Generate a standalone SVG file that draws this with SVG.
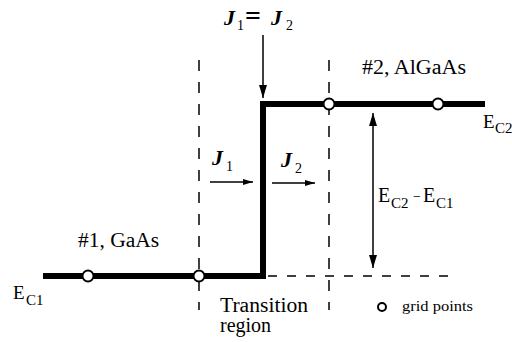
<svg xmlns="http://www.w3.org/2000/svg" width="512" height="342" viewBox="0 0 512 342">
<style>
.band{fill:none;stroke:#000;stroke-width:6;stroke-linejoin:miter;stroke-linecap:butt}
.vdash{fill:none;stroke:#000;stroke-width:1.5;stroke-dasharray:11 11}
.hdash{fill:none;stroke:#000;stroke-width:1.5;stroke-dasharray:9 10}
.arr{fill:none;stroke:#000;stroke-width:1.5}
.pt{fill:#fff;stroke:#000;stroke-width:2}
text{fill:#000}
.sub{font-size:15px}
.jsub{font-size:14px;font-style:normal;font-weight:normal}
</style>
<defs>
<marker id="big" viewBox="0 0 13 8" refX="13" refY="4" markerWidth="13" markerHeight="8" markerUnits="userSpaceOnUse" orient="auto-start-reverse"><path d="M0,0 L13,4 L0,8 Z" fill="#000"/></marker>
<marker id="small" viewBox="0 0 10 6" refX="10" refY="3" markerWidth="10" markerHeight="6" markerUnits="userSpaceOnUse" orient="auto"><path d="M0,0 L10,3 L0,6 Z" fill="#000"/></marker>
</defs>

<g id="guides">
<line class="vdash" x1="199" y1="60" x2="199" y2="310"/>
<line class="vdash" x1="329" y1="60" x2="329" y2="310"/>
<line class="hdash" x1="268" y1="276" x2="449" y2="276"/>
</g>

<g id="band-edge">
<path class="band" d="M43,276 H263 V104 H485"/>
</g>

<g id="connectors">
<line class="arr" x1="263" y1="35" x2="263" y2="98" marker-end="url(#big)"/>
<line class="arr" x1="210" y1="182" x2="253" y2="182" marker-end="url(#small)"/>
<line class="arr" x1="272" y1="183" x2="315" y2="183" marker-end="url(#small)"/>
<line class="arr" x1="373" y1="113" x2="373" y2="268" marker-start="url(#big)" marker-end="url(#big)"/>
</g>

<g id="grid-points">
<circle class="pt" cx="88" cy="276" r="5.5"/>
<circle class="pt" cx="199" cy="276" r="5.5"/>
<circle class="pt" cx="329" cy="104" r="5.5"/>
<circle class="pt" cx="438" cy="104" r="5.5"/>
</g>

<g id="labels" font-family="Liberation Serif, DejaVu Serif, serif" font-size="20">
<g font-weight="bold" font-style="italic" font-size="22">
<text y="25"><tspan x="224">J</tspan><tspan class="jsub" x="237" dy="5">1</tspan><tspan x="245" dy="-5" font-size="28" font-style="normal">=</tspan><tspan x="271">J</tspan><tspan class="jsub" x="286" dy="5">2</tspan></text>
<text y="165"><tspan x="212">J</tspan><tspan class="jsub" x="226" dy="6">1</tspan></text>
<text y="167"><tspan x="281">J</tspan><tspan class="jsub" x="295" dy="6">2</tspan></text>
</g>
<text x="362" y="74" textLength="104" lengthAdjust="spacingAndGlyphs">#2, AlGaAs</text>
<text x="78" y="247" textLength="81" lengthAdjust="spacingAndGlyphs">#1, GaAs</text>
<text y="128" font-size="19"><tspan x="483">E</tspan><tspan class="sub" x="495" dy="5">C2</tspan></text>
<text y="299" font-size="19"><tspan x="13">E</tspan><tspan class="sub" x="26" dy="6">C1</tspan></text>
<text y="202"><tspan x="378">E</tspan><tspan class="sub" x="391" dy="6">C2</tspan><tspan x="413" dy="-7" font-size="14">−</tspan><tspan x="423" dy="1">E</tspan><tspan class="sub" x="436" dy="6">C1</tspan></text>
<text x="220" y="312" textLength="88" lengthAdjust="spacingAndGlyphs">Transition</text>
<text x="220" y="332">region</text>
</g>

<g id="legend">
<circle class="pt" cx="382" cy="307" r="4" stroke-width="1.5"/>
<text x="402" y="311" font-family="Liberation Serif, DejaVu Serif, serif" font-size="15" textLength="71" lengthAdjust="spacingAndGlyphs">grid points</text>
</g>
</svg>
